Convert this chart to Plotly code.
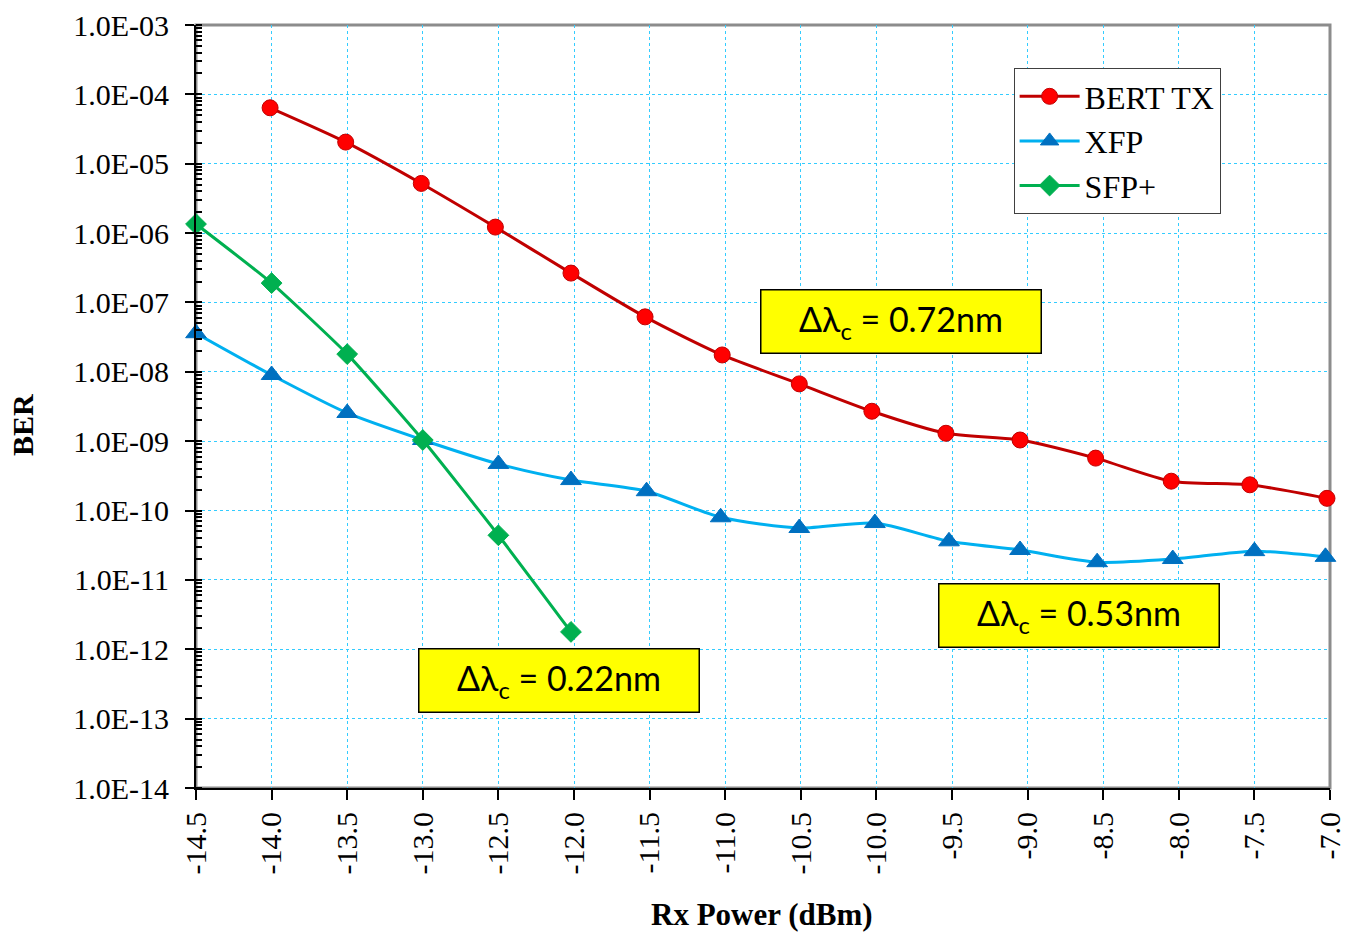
import plotly.graph_objects as go

# Measured BER versus received optical power for three transmitters
bert_x = [-14.01, -13.51, -13.01, -12.52, -12.02, -11.53, -11.02, -10.51,
          -10.03, -9.54, -9.05, -8.55, -8.05, -7.53, -7.02]
bert_ber = [6.4e-5, 2.05e-5, 5.2e-6, 1.22e-6, 2.65e-7, 6.2e-8, 1.75e-8, 6.7e-9,
            2.7e-9, 1.3e-9, 1.04e-9, 5.7e-10, 2.65e-10, 2.35e-10, 1.5e-10]

xfp_x = [-14.5, -14.0, -13.5, -13.0, -12.5, -12.02, -11.52, -11.03, -10.51,
         -10.01, -9.52, -9.05, -8.54, -8.04, -7.5, -7.03]
xfp_ber = [3.6e-8, 9.0e-9, 2.55e-9, 1.04e-9, 4.7e-10, 2.75e-10, 1.9e-10, 8.0e-11,
           5.6e-11, 6.6e-11, 3.6e-11, 2.7e-11, 1.8e-11, 2.0e-11, 2.6e-11, 2.15e-11]

sfp_x = [-14.5, -14.0, -13.5, -13.0, -12.5, -12.02]
sfp_ber = [1.35e-6, 1.9e-7, 1.8e-8, 1.04e-9, 4.4e-11, 1.78e-12]

x_ticks = [-14.5, -14.0, -13.5, -13.0, -12.5, -12.0, -11.5, -11.0, -10.5,
           -10.0, -9.5, -9.0, -8.5, -8.0, -7.5, -7.0]
x_tick_text = ["%.1f" % v for v in x_ticks]
y_exponents = list(range(-3, -15, -1))
y_tick_vals = [10.0 ** e for e in y_exponents]
y_tick_text = ["1.0E-%02d" % (-e) for e in y_exponents]

annotations_text = [
    ("Δλ<sub>c</sub> = 0.72nm", 0.6217, 0.612),
    ("Δλ<sub>c</sub> = 0.53nm", 0.7791, 0.2261),
    ("Δλ<sub>c</sub> = 0.22nm", 0.3205, 0.1409),
]

SERIF = "Liberation Serif, Times New Roman, serif"

fig = go.Figure()

fig.add_trace(go.Scatter(
    x=bert_x, y=bert_ber, name="BERT TX", mode="lines+markers",
    line=dict(color="#C00000", width=3, shape="spline", smoothing=0.7),
    marker=dict(symbol="circle", size=16, color="#FF0000",
                line=dict(color="#C00000", width=1)),
    cliponaxis=False,
))
fig.add_trace(go.Scatter(
    x=xfp_x, y=xfp_ber, name="XFP", mode="lines+markers",
    line=dict(color="#00B0F0", width=3, shape="spline", smoothing=0.7),
    marker=dict(symbol="triangle-up", size=18, color="#0070C0",
                line=dict(color="#0070C0", width=1)),
    cliponaxis=False,
))
fig.add_trace(go.Scatter(
    x=sfp_x, y=sfp_ber, name="SFP+", mode="lines+markers",
    line=dict(color="#00B050", width=3, shape="spline", smoothing=0.5),
    marker=dict(symbol="diamond", size=16, color="#00B050",
                line=dict(color="#00B050", width=1)),
    cliponaxis=False,
))

# grey frame on the top and right of the plotting area
fig.add_shape(type="rect", xref="paper", yref="paper", x0=0, y0=0, x1=1, y1=1,
              line=dict(color="#8C8C8C", width=3), layer="below")

for text, xp, yp in annotations_text:
    fig.add_annotation(
        text=text, xref="paper", yref="paper", x=xp, y=yp,
        xanchor="center", yanchor="middle",
        showarrow=False, bgcolor="#FFFF00", bordercolor="#000000",
        borderwidth=1.5, borderpad=0, width=279, height=62,
        font=dict(family="Lato, Open Sans, sans-serif", size=34, color="#000000"),
    )

# axis titles
fig.add_annotation(text="<b>Rx Power (dBm)</b>", xref="paper", yref="paper",
                   x=0.499, y=-0.1664, xanchor="center", yanchor="middle",
                   showarrow=False, font=dict(family=SERIF, size=31))
fig.add_annotation(text="<b>BER</b>", xref="paper", yref="paper",
                   x=-0.1534, y=0.4757, xanchor="center", yanchor="middle",
                   textangle=-90, showarrow=False, font=dict(family=SERIF, size=30))

fig.update_layout(
    width=1345, height=932, autosize=False,
    margin=dict(l=196, r=15, t=25, b=144),
    paper_bgcolor="#FFFFFF", plot_bgcolor="#FFFFFF",
    font=dict(family=SERIF, color="#000000"),
    showlegend=True,
    legend=dict(
        x=0.721, y=0.9436, xanchor="left", yanchor="top",
        bgcolor="#FFFFFF", bordercolor="#404040", borderwidth=1,
        font=dict(family=SERIF, size=32, color="#000000"),
        itemwidth=60,
    ),
)

fig.update_xaxes(
    range=[-14.5, -7.0], tickvals=x_ticks, ticktext=x_tick_text,
    tickangle=-90, tickfont=dict(family=SERIF, size=30),
    ticklabeloverflow="allow", automargin=False,
    ticks="outside", ticklen=10, tickwidth=2, tickcolor="#000000",
    showline=True, linecolor="#000000", linewidth=2,
    showgrid=True, gridcolor="#33CCFF", gridwidth=1, griddash="dot",
    zeroline=False,
)

fig.update_yaxes(
    type="log", range=[-14, -3], tickvals=y_tick_vals, ticktext=y_tick_text,
    tickfont=dict(family=SERIF, size=30), ticklabelstandoff=10,
    automargin=False,
    ticks="outside", ticklen=9, tickwidth=2, tickcolor="#000000",
    minor=dict(ticks="inside", ticklen=6, tickwidth=1.5, tickcolor="#000000",
               dtick="D1", showgrid=False),
    showline=True, linecolor="#000000", linewidth=2,
    showgrid=True, gridcolor="#33CCFF", gridwidth=1, griddash="dot",
    zeroline=False,
)

fig.write_html("out.html")
